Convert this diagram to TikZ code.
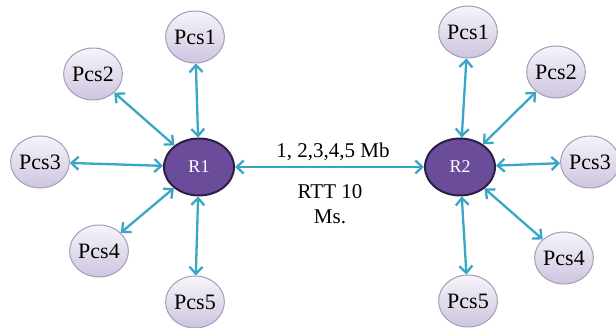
\documentclass[tikz,border=0pt]{standalone}
\usepackage{fontspec}
\setmainfont{Liberation Serif}
\usetikzlibrary{shapes.geometric,arrows.meta}
\definecolor{linkblue}{HTML}{3AA6C6}
\definecolor{routerfill}{HTML}{6B4C9A}
\definecolor{routerdraw}{HTML}{2B1F45}
\definecolor{pcdraw}{HTML}{A59BB8}
\definecolor{pctop}{HTML}{F6F4FA}
\definecolor{pcbottom}{HTML}{CEC5DF}
\tikzset{
  pcnode/.style={ellipse, minimum width=54pt, minimum height=52pt, inner sep=0pt,
    draw=pcdraw, line width=1pt, top color=pctop, bottom color=pcbottom,
    font=\rmfamily\fontsize{22}{24}\selectfont},
  router/.style={ellipse, minimum width=70pt, minimum height=57pt, inner sep=0pt,
    draw=routerdraw, line width=2pt, fill=routerfill, text=white,
    font=\rmfamily\fontsize{18}{20}\selectfont},
  link/.style={draw=linkblue, line width=2.3pt,
    {Straight Barb[length=7pt,width=13pt,line width=2.3pt]}-{Straight Barb[length=7pt,width=13pt,line width=2.3pt]}},
  lbl/.style={font=\rmfamily\fontsize{21}{25}\selectfont, align=center, inner sep=0pt}
}
\begin{document}
\begin{tikzpicture}[x=1pt,y=-1pt]
\useasboundingbox (0,0) rectangle (616,328);
% routers
\node[router] (r1) at (199,167) {R1};
\node[router] (r2) at (460,167) {R2};
% hosts around R1
\node[pcnode] (a1) at (195,37) {Pcs1};
\node[pcnode] (a2) at (93,74) {Pcs2};
\node[pcnode] (a3) at (40,162) {Pcs3};
\node[pcnode] (a4) at (99,251) {Pcs4};
\node[pcnode] (a5) at (195,302) {Pcs5};
% hosts around R2
\node[pcnode] (b1) at (468,32) {Pcs1};
\node[pcnode] (b2) at (556,72) {Pcs2};
\node[pcnode] (b3) at (590,162) {Pcs3};
\node[pcnode] (b4) at (564,258) {Pcs4};
\node[pcnode] (b5) at (468,301) {Pcs5};
% links
\foreach \h in {a1,a2,a3,a4,a5} \draw[link] (\h) -- (r1);
\foreach \h in {b1,b2,b3,b4,b5} \draw[link] (\h) -- (r2);
\draw[link] (r1) -- (r2);
% bottleneck labels
\node[lbl] (bw) at (333,152) {1, 2,3,4,5 Mb};
\node[lbl] (rtt) at (330,204) {RTT 10\\Ms.};
\end{tikzpicture}
\end{document}
